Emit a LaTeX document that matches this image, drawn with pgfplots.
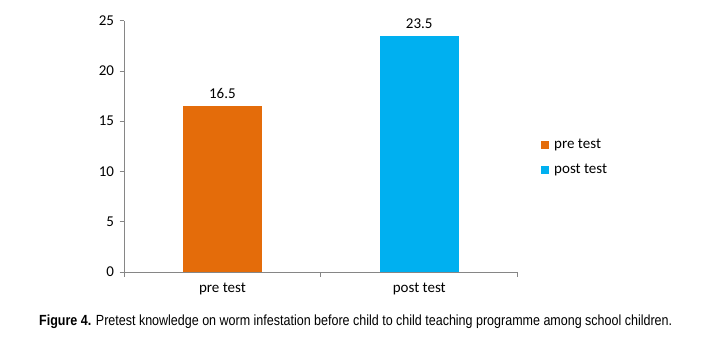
\documentclass[border=0pt]{standalone}
\usepackage{fontspec}
\setmainfont{Carlito}
\newfontfamily\capfont{Liberation Sans}
\usepackage{graphicx}
\usepackage{pgfplots}
\pgfplotsset{compat=1.18}
\definecolor{preC}{HTML}{E46C0A}
\definecolor{postC}{HTML}{00B0F0}
\definecolor{axC}{HTML}{868686}
\begin{document}
\begin{tikzpicture}[x=1pt,y=1pt]
\path[use as bounding box] (0,0) rectangle (723,349);
\begin{axis}[
  at={(124pt,77pt)}, anchor=south west,
  scale only axis, width=393.7pt, height=251.3pt,
  font=\fontsize{15}{17}\selectfont,
  /pgf/number format/assume math mode=true,
  xmin=-0.5, xmax=1.5, ymin=0, ymax=25,
  axis lines=left,
  axis line style={draw=axC, line width=0.8pt, -},
  tick align=outside,
  tick style={draw=axC, line width=0.8pt},
  major tick length=4.5pt,
  ytick={0,5,10,15,20,25},
  yticklabel style={xshift=-2pt},
  xtick={-0.5,0.5,1.5}, xticklabels={},
  extra x ticks={0,1},
  extra x tick labels={pre test, post test},
  extra x tick style={major tick length=0pt, tick style={draw=none},
    xticklabel style={yshift=-7pt}},
  ybar, bar width=79pt, bar shift=0pt,
  nodes near coords,
  every node near coord/.append style={font=\fontsize{15}{17}\selectfont, yshift=4pt, /pgf/number format/fixed, /pgf/number format/precision=1},
  legend style={at={(rel axis cs:1.0516,0.545)}, anchor=north west, draw=none, fill=none,
    font=\fontsize{15}{17}\selectfont, row sep=10pt,
    /tikz/every odd column/.append style={column sep=3pt}},
  legend image code/.code={\fill[#1] (0pt,-4pt) rectangle (8pt,4pt);},
  legend cell align=left,
  clip=false,
]
\addplot[fill=preC, draw=none] coordinates {(0,16.5)};
\addplot[fill=postC, draw=none] coordinates {(1,23.5)};
\legend{pre test, post test}
\end{axis}
\node[anchor=base west, inner sep=0pt] at (39,23.3) {\resizebox{633pt}{\height}{\capfont\fontsize{14.7}{17}\selectfont\textbf{Figure 4.} Pretest knowledge on worm infestation before child to child teaching programme among school children.}};
\end{tikzpicture}
\end{document}
